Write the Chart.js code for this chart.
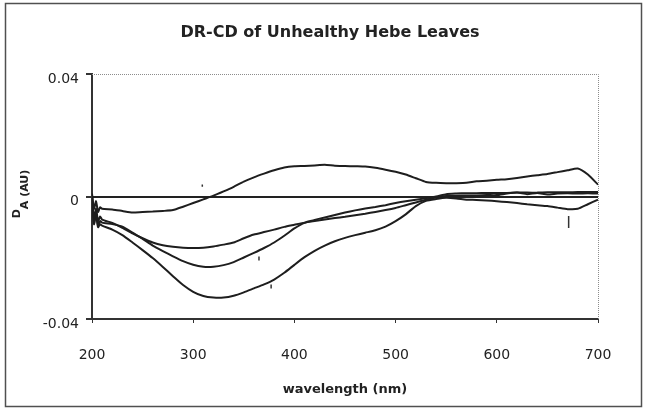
<!DOCTYPE html>
<html>
<head>
<meta charset="utf-8">
<title>DR-CD of Unhealthy Hebe Leaves</title>
<script src="https://cdn.jsdelivr.net/npm/chart.js@4.4.1/dist/chart.umd.min.js"></script>
<style>
  html, body { margin: 0; padding: 0; background: #fff; }
  #wrap { width: 645px; height: 409px; }
</style>
</head>
<body>
<div id="wrap"><canvas id="cdChart" width="645" height="409"></canvas></div>
<script>
// wavelength grid (nm), shared by the four spectra
const wavelengths = [
  200, 202, 204, 206, 208, 210,
  220, 230, 240, 250, 260, 270, 280, 290, 300, 310,
  320, 330, 340, 350, 360, 370, 380, 390, 400, 410,
  420, 430, 440, 450, 460, 470, 480, 490, 500, 510,
  520, 530, 540, 550, 560, 570, 580, 590, 600, 610,
  620, 630, 640, 650, 660, 670, 680, 690, 700
];

// spectrum that turns positive (peak ~0.01 near 420 nm)
const leafA = [
  0.0010, -0.0040, -0.0015, -0.0050, -0.0035, -0.0040,
  -0.0042, -0.0047, -0.0052, -0.0050, -0.0049, -0.0047, -0.0044, -0.0033, -0.0021, -0.0009,
  0.0003, 0.0017, 0.0032, 0.0049, 0.0063, 0.0075, 0.0086, 0.0095, 0.0099, 0.0100,
  0.0102, 0.0104, 0.0101, 0.0100, 0.0099, 0.0098, 0.0094, 0.0088, 0.0081, 0.0072,
  0.0060, 0.0048, 0.0045, 0.0044, 0.0044, 0.0045, 0.0050, 0.0052, 0.0055, 0.0057,
  0.0061, 0.0066, 0.0070, 0.0074, 0.0080, 0.0086, 0.0092, 0.0072, 0.0039
];

// shallow minimum (~ -0.017 near 300 nm)
const leafB = [
  -0.0010, -0.0070, -0.0040, -0.0080, -0.0065, -0.0075,
  -0.0086, -0.0102, -0.0120, -0.0136, -0.0150, -0.0159, -0.0164, -0.0167, -0.0168, -0.0167,
  -0.0163, -0.0157, -0.0150, -0.0136, -0.0124, -0.0116, -0.0108, -0.0099, -0.0092, -0.0085,
  -0.0076, -0.0068, -0.0060, -0.0052, -0.0045, -0.0039, -0.0034, -0.0028, -0.0021, -0.0015,
  -0.0010, -0.0005, 0.0000, 0.0008, 0.0010, 0.0011, 0.0011, 0.0012, 0.0012, 0.0012,
  0.0013, 0.0013, 0.0013, 0.0014, 0.0014, 0.0014, 0.0015, 0.0015, 0.0015
];

// middle minimum (~ -0.023 near 315 nm)
const leafC = [
  0.0000, -0.0085, -0.0050, -0.0095, -0.0080, -0.0085,
  -0.0090, -0.0098, -0.0118, -0.0138, -0.0160, -0.0178, -0.0195, -0.0211, -0.0223, -0.0229,
  -0.0229, -0.0224, -0.0214, -0.0199, -0.0184, -0.0168, -0.0150, -0.0128, -0.0104, -0.0086,
  -0.0080, -0.0075, -0.0070, -0.0066, -0.0061, -0.0056, -0.0050, -0.0044, -0.0037, -0.0028,
  -0.0019, -0.0010, -0.0003, 0.0002, 0.0003, 0.0004, 0.0004, 0.0005, 0.0005, 0.0010,
  0.0013, 0.0008, 0.0012, 0.0007, 0.0010, 0.0011, 0.0010, 0.0011, 0.0010
];

// deepest minimum (~ -0.033 near 325 nm)
const leafD = [
  0.0005, -0.0090, -0.0060, -0.0100, -0.0090, -0.0095,
  -0.0108, -0.0126, -0.0150, -0.0175, -0.0201, -0.0230, -0.0260, -0.0289, -0.0311, -0.0325,
  -0.0330, -0.0330, -0.0324, -0.0313, -0.0300, -0.0287, -0.0271, -0.0249, -0.0223, -0.0198,
  -0.0177, -0.0160, -0.0146, -0.0135, -0.0126, -0.0118, -0.0110, -0.0098, -0.0080, -0.0058,
  -0.0031, -0.0014, -0.0008, -0.0004, -0.0006, -0.0010, -0.0011, -0.0013, -0.0015, -0.0018,
  -0.0021, -0.0025, -0.0028, -0.0031, -0.0036, -0.0041, -0.0040, -0.0025, -0.0010
];

// stray marks left on the scanned plot
const speckX = [309, 365, 377, 671];
const speckY = [0.0036, -0.0202, -0.0294, -0.0083];

const xTicks = [200, 300, 400, 500, 600, 700];
const yTicks = [-0.04, 0, 0.04];

const toPoints = (ys) => wavelengths.map((w, i) => ({ x: w, y: ys[i] }));
const ink = '#1e1e1e';

// outer frame, dotted top/right plot edges and the D_A axis title
const framePlugin = {
  id: 'frame',
  afterDraw(chart) {
    const { ctx, chartArea: a } = chart;
    ctx.save();
    ctx.strokeStyle = '#8c8c8c';
    ctx.lineWidth = 1;
    ctx.setLineDash([1, 1]);
    ctx.beginPath();
    ctx.moveTo(a.left, Math.round(a.top) + 0.5);
    ctx.lineTo(Math.round(a.right) + 0.5, Math.round(a.top) + 0.5);
    ctx.lineTo(Math.round(a.right) + 0.5, a.bottom);
    ctx.stroke();
    ctx.setLineDash([]);

    ctx.strokeStyle = '#505050';
    ctx.lineWidth = 1.5;
    ctx.strokeRect(5.5, 3.5, 636, 403);

    ctx.fillStyle = '#222';
    ctx.translate(25, 194);
    ctx.rotate(-Math.PI / 2);
    ctx.font = 'bold 11px "DejaVu Sans", sans-serif';
    ctx.textBaseline = 'middle';
    ctx.textAlign = 'left';
    const wD = ctx.measureText('D').width;
    const wRest = ctx.measureText('A (AU)').width;
    const start = -(wD + wRest) / 2;
    ctx.fillText('D', start, -8);
    ctx.fillText('A (AU)', start + wD, 0);
    ctx.restore();
  }
};

Chart.defaults.font.family = '"DejaVu Sans", sans-serif';
Chart.defaults.color = '#222';

const lineSet = (label, ys) => ({
  type: 'line',
  label: label,
  data: toPoints(ys),
  borderColor: ink,
  borderWidth: 2,
  pointRadius: 0,
  tension: 0.2,
  fill: false
});

new Chart(document.getElementById('cdChart').getContext('2d'), {
  data: {
    datasets: [
      lineSet('A', leafA),
      lineSet('B', leafB),
      lineSet('C', leafC),
      lineSet('D', leafD),
      {
        type: 'scatter',
        label: 'marks',
        data: speckX.map((x, i) => ({ x: x, y: speckY[i] })),
        pointStyle: 'line',
        rotation: 90,
        pointRadius: [1.2, 2, 2, 6],
        borderColor: '#333',
        borderWidth: 1.5
      }
    ]
  },
  options: {
    responsive: false,
    animation: false,
    layout: { padding: { left: 15, right: 0, top: 0, bottom: 0 } },
    plugins: {
      legend: { display: false },
      tooltip: { enabled: false },
      title: {
        display: true,
        text: 'DR-CD of Unhealthy Hebe Leaves',
        color: '#222',
        font: { size: 16, weight: 'bold' },
        padding: { top: 23, bottom: 32 }
      }
    },
    scales: {
      x: {
        type: 'linear',
        min: 200,
        max: 700,
        afterBuildTicks: (scale) => { scale.ticks = xTicks.map(v => ({ value: v })); },
        afterFit: (scale) => { scale.height = 90; },
        ticks: { font: { size: 14 }, padding: 24, maxRotation: 0 },
        grid: { drawOnChartArea: false, tickLength: 4, color: '#333', tickColor: '#333' },
        border: { color: '#333', width: 2 },
        title: {
          display: true,
          text: 'wavelength (nm)',
          font: { size: 13, weight: 'bold' },
          padding: { top: 0, bottom: 12 }
        }
      },
      y: {
        min: -0.04,
        max: 0.04,
        afterBuildTicks: (scale) => { scale.ticks = yTicks.map(v => ({ value: v })); },
        afterFit: (scale) => { scale.width = 77; },
        ticks: {
          font: { size: 14 },
          padding: 7,
          labelOffset: 5,
          callback: (v) => (Math.abs(v) < 1e-9 ? '0' : v.toFixed(2))
        },
        grid: {
          color: (c) => (c.tick && Math.abs(c.tick.value) < 1e-9 ? '#222' : 'rgba(0,0,0,0)'),
          lineWidth: 2,
          tickLength: 6,
          tickColor: '#333'
        },
        border: { color: '#333', width: 2 }
      },
      yPad: {
        position: 'right',
        display: true,
        afterFit: (scale) => { scale.width = 47; },
        ticks: { display: false },
        grid: { display: false },
        border: { display: false }
      }
    }
  },
  plugins: [framePlugin]
});
</script>
</body>
</html>
